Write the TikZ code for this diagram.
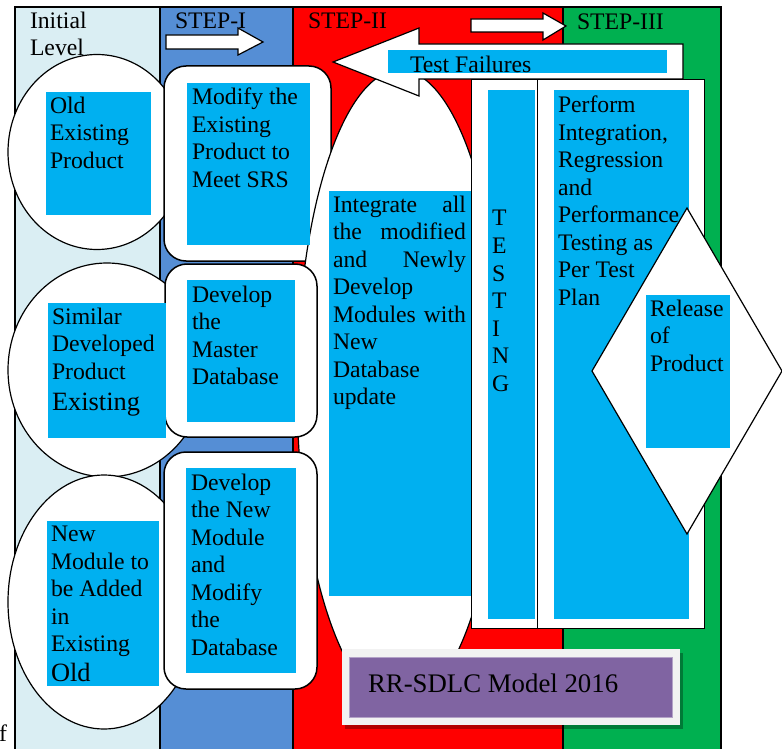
\documentclass[tikz,border=0pt]{standalone}
\usepackage{fontspec}
\setmainfont{Liberation Serif}
\usetikzlibrary{shapes.geometric}
\definecolor{initblue}{HTML}{DAEEF3}
\definecolor{stepone}{HTML}{558ED5}
\definecolor{steptwo}{HTML}{FF0000}
\definecolor{stepthree}{HTML}{00B050}
\definecolor{boxblue}{HTML}{00B0F0}
\definecolor{modelpurple}{HTML}{8064A2}
\definecolor{framegrey}{HTML}{F2F2F2}
\begin{document}
\begin{tikzpicture}[x=1pt,y=-1pt]
      \tikzstyle{every node}=[inner sep=0pt, outer sep=0pt]
      \tikzstyle{bubble}=[ellipse, draw, fill=white, line width=1.2pt]
      \tikzstyle{card}=[rectangle, draw, fill=white, line width=1.5pt, rounded corners=22pt, anchor=north west]
      \tikzstyle{frame}=[rectangle, draw, fill=white, line width=1pt, anchor=north west]
      \tikzstyle{bluebox}=[rectangle, fill=boxblue, anchor=north west]
      \tikzstyle{txt}=[font=\fontsize{23.7}{27.5}\selectfont, align=left, anchor=north west, yshift=-3pt, execute at begin node=\strut]
      \tikzstyle{blockarrow}=[draw, fill=white, line width=1.2pt]

      \useasboundingbox (0,0) rectangle (782,749);

      \foreach \a/\b/\c in {15/160/initblue, 160/293/stepone, 293/563/steptwo, 563/721/stepthree}
      {
        \path[draw, line width=2pt, fill=\c] (\a,7) rectangle (\b,760);
      }

      \node[txt] (initial) at (30,9) {Initial\\Level};
      \node[txt] (stepi) at (175,6) {STEP-I};
      \node[txt] (stepii) at (308,6) {STEP-II};
      \node[txt] (stepiii) at (577,7) {STEP-III};

      \node[bubble, minimum width=178pt, minimum height=195pt] (oldring) at (97,152) {};
      \node[bubble, minimum width=198pt, minimum height=214pt] (similarring) at (107,370) {};
      \node[bubble, minimum width=192pt, minimum height=254pt] (newring) at (104,602) {};

      \node[card, minimum width=167pt, minimum height=195pt] (modifycard) at (164,66) {};
      \node[bubble, minimum width=206pt, minimum height=636pt] (integratering) at (400,388) {};
      \node[card, minimum width=152pt, minimum height=173pt] (mastercard) at (165,264) {};
      \node[card, minimum width=153pt, minimum height=237pt] (newdbcard) at (164,452) {};

      \draw[blockarrow] (683,44) -- (419,44) -- (419,28) -- (333,62) -- (419,96) -- (419,79) -- (683,79) -- cycle;

      \node[frame, minimum width=66pt, minimum height=548pt] (testframe) at (471,80) {};
      \node[frame, minimum width=167pt, minimum height=548pt] (performframe) at (537,80) {};

      \node[bluebox, minimum width=105pt, minimum height=123pt] (old) at (46,92) {};
      \node[bluebox, minimum width=118pt, minimum height=135pt] (similar) at (48,303) {};
      \node[bluebox, minimum width=112pt, minimum height=165pt] (newmod) at (47,521) {};
      \node[bluebox, minimum width=123pt, minimum height=162pt] (modify) at (187,83) {};
      \node[bluebox, minimum width=108pt, minimum height=142pt] (master) at (187,280) {};
      \node[bluebox, minimum width=110pt, minimum height=205pt] (newdb) at (186,468) {};
      \node[bluebox, minimum width=142pt, minimum height=405pt] (integrate) at (329,191) {};
      \node[bluebox, minimum width=279pt, minimum height=23pt] (failures) at (388,50) {};
      \node[bluebox, minimum width=47pt, minimum height=529pt] (testing) at (488,90) {};
      \node[bluebox, minimum width=135pt, minimum height=529pt] (perform) at (554,90) {};

      \node[txt] (oldtext) at (50,94) {Old\\Existing\\Product};
      \node[txt] (similartext) at (52,305) {Similar\\Developed\\Product\\[3.5pt]{\fontsize{26.4}{27.5}\selectfont Existing}};
      \node[txt] (newmodtext) at (51,523) {New\\Module to\\be Added\\in\\Existing\\[2.5pt]{\fontsize{26.4}{27.5}\selectfont Old}};
      \node[txt] (modifytext) at (192,85) {Modify the\\Existing\\Product to\\Meet SRS};
      \node[txt] (mastertext) at (192,283) {Develop\\the\\Master\\Database};
      \node[txt] (newdbtext) at (191,471) {Develop\\the New\\Module\\and\\Modify\\the\\Database};
      \node[txt] (integratetext) at (333,193) {\makebox[133pt][s]{Integrate all}\\\makebox[133pt][s]{the modified}\\\makebox[133pt][s]{and Newly}\\Develop\\\makebox[133pt][s]{Modules with}\\New\\Database\\update};
      \node[txt] (failurestext) at (410,50) {Test Failures};
      \foreach \l [count=\i from 0] in {T,E,S,T,I,N,G}
      {
        \node[txt] (letter\i) at (492,203.75+\i*27.5) {\l};
      }
      \node[txt] (performtext) at (558,93) {Perform\\Integration,\\Regression\\and\\Performance\\Testing as\\Per Test\\Plan};

      \node[diamond, draw, fill=white, line width=1.2pt, minimum width=190pt, minimum height=326pt] (releasering) at (687,371) {};
      \node[bluebox, minimum width=84pt, minimum height=153pt] (release) at (646,295) {};
      \node[txt] (releasetext) at (650,297) {Release\\of\\Product};

      \path[fill=black, opacity=0.3] (345,653) rectangle (683,729);
      \node[rectangle, fill=framegrey, anchor=north west, minimum width=338pt, minimum height=76pt] (modelframe) at (342,649) {};
      \node[rectangle, fill=modelpurple, draw=modelpurple!60!white, line width=0.6pt, anchor=north west, minimum width=323pt, minimum height=60pt] (model) at (349,657) {};
      \node[anchor=base west, font=\fontsize{26.8}{30}\selectfont] (modeltext) at (368,692) {RR-SDLC Model 2016};

      \draw[blockarrow] (166,35) -- (238,35) -- (238,28) -- (263,42) -- (238,55) -- (238,49) -- (166,49) -- cycle;
      \draw[blockarrow] (471,19) -- (543,19) -- (543,13) -- (566,26) -- (543,40) -- (543,32) -- (471,32) -- cycle;

      \node[anchor=base west, font=\fontsize{23.7}{27.5}\selectfont] (stray) at (-1,741) {f};
    \end{tikzpicture}
\end{document}
